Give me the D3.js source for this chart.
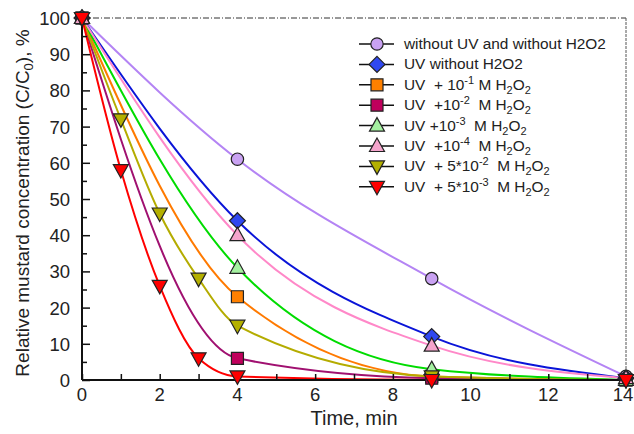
<!DOCTYPE html>
<html>
<head>
<meta charset="utf-8">
<script src="https://cdn.jsdelivr.net/npm/d3@7/dist/d3.min.js"></script>
<style>
  html, body { margin: 0; padding: 0; background: #fff; }
  svg { display: block; font-family: "Liberation Sans", Arial, sans-serif; }
  text { white-space: pre; }
</style>
</head>
<body>
<svg id="chart" width="634" height="434"></svg>
<script>
// Sampling times, min
const times4 = [0, 4, 9, 14];
const timesFine = [0, 1, 2, 3, 4, 9, 14];

// Relative concentration C/C0, %
const noUvNoH2O2 = [100, 61, 28, 1];
const uvNoH2O2 = [100, 44, 12, 0.5];
const uvH2O2_1e1 = [100, 23, 1, 0];
const uvH2O2_1e2 = [100, 6, 0.5, 0];
const uvH2O2_1e3 = [100, 31, 3, 0];
const uvH2O2_1e4 = [100, 40, 9.5, 0.5];
const uvH2O2_5e2 = [100, 72, 46, 28, 15, 1, 0];
const uvH2O2_5e3 = [100, 58, 26, 6, 1, 0, 0];

const xTicks = [0, 2, 4, 6, 8, 10, 12, 14];
const yTicks = [0, 10, 20, 30, 40, 50, 60, 70, 80, 90, 100];

const series = [
  { t: times4, v: noUvNoH2O2, line: "#b484f4", fill: "#c9a2f2", sym: "circle",
    label: [["without UV and without H2O2"]] },
  { t: times4, v: uvNoH2O2, line: "#0a14d8", fill: "#3048f0", sym: "diamond",
    label: [["UV without H2O2"]] },
  { t: times4, v: uvH2O2_1e1, line: "#ff7a00", fill: "#ff8000", sym: "square",
    label: [["UV  + 10"], ["-1", "sup"], [" M H"], ["2", "sub"], ["O"], ["2", "sub"]] },
  { t: times4, v: uvH2O2_1e2, line: "#a01070", fill: "#c0005c", sym: "square",
    label: [["UV  +10"], ["-2", "sup"], ["  M H"], ["2", "sub"], ["O"], ["2", "sub"]] },
  { t: times4, v: uvH2O2_1e3, line: "#00dc00", fill: "#a4f0a0", sym: "triangle",
    label: [["UV +10"], ["-3", "sup"], ["  M H"], ["2", "sub"], ["O"], ["2", "sub"]] },
  { t: times4, v: uvH2O2_1e4, line: "#ff88c8", fill: "#f4a4cc", sym: "triangle",
    label: [["UV  +10"], ["-4", "sup"], ["  M H"], ["2", "sub"], ["O"], ["2", "sub"]] },
  { t: timesFine, v: uvH2O2_5e2, line: "#b4ac00", fill: "#b4b000", sym: "tridown",
    label: [["UV  + 5*10"], ["-2", "sup"], ["  M H"], ["2", "sub"], ["O"], ["2", "sub"]] },
  { t: timesFine, v: uvH2O2_5e3, line: "#ff0000", fill: "#ff0000", sym: "tridown",
    label: [["UV  + 5*10"], ["-3", "sup"], ["  M H"], ["2", "sub"], ["O"], ["2", "sub"]] }
];

const svg = d3.select("#chart");
const x = d3.scaleLinear().domain([0, 14]).range([82, 626]);
const y = d3.scaleLinear().domain([0, 100]).range([380, 18]);

// symbol paths centred at origin
function symbolPath(sym) {
  switch (sym) {
    case "circle": return d3.symbol(d3.symbolCircle, 120)();
    case "diamond": return "M0,-8L8,0L0,8L-8,0Z";
    case "square": return "M-6,-6H6V6H-6Z";
    case "triangle": return "M0,-8L7.5,5.5H-7.5Z";
    case "tridown": return "M0,8L7.5,-5.5H-7.5Z";
  }
}

// frame: dash-dot top and dashed right border
svg.append("line").attr("x1", x(0)).attr("x2", x(14)).attr("y1", y(100)).attr("y2", y(100))
  .attr("stroke", "#333").attr("stroke-width", 1).attr("stroke-dasharray", "6,2,1,2");
svg.append("line").attr("x1", x(14)).attr("x2", x(14)).attr("y1", y(100)).attr("y2", y(0))
  .attr("stroke", "#555").attr("stroke-width", 1).attr("stroke-dasharray", "3,1");

// curves
const lineGen = d3.line().curve(d3.curveMonotoneX);
const curves = svg.append("g");
series.forEach(s => {
  curves.append("path")
    .attr("d", lineGen(s.t.map((t, i) => [x(t), y(s.v[i])])))
    .attr("fill", "none").attr("stroke", s.line).attr("stroke-width", 2);
});

// axes with inward ticks
const xAxisG = svg.append("g").attr("transform", `translate(0,${y(0)})`);
xAxisG.call(d3.axisTop(x).tickValues(d3.range(0, 15, 1)).tickSize(6).tickFormat(""));
xAxisG.selectAll("path.domain").remove();
xAxisG.selectAll("line").attr("stroke", "#111").attr("stroke-width", 1.5);
svg.append("g").selectAll("text").data(xTicks).join("text")
  .attr("x", d => d === 14 ? x(d) - 3 : x(d)).attr("y", 401)
  .attr("text-anchor", "middle").attr("font-size", 18.5).attr("fill", "#222")
  .text(d => d);

const yAxisG = svg.append("g").attr("transform", `translate(${x(0)},0)`);
yAxisG.call(d3.axisRight(y).tickValues(d3.range(0, 101, 5)).tickSize(5).tickFormat(""));
yAxisG.selectAll("path.domain").remove();
yAxisG.selectAll(".tick line")
  .attr("x2", d => d % 10 === 0 ? 8 : 5)
  .attr("stroke", "#111").attr("stroke-width", 1.5);
svg.append("g").selectAll("text").data(yTicks).join("text")
  .attr("x", 70).attr("y", d => y(d) + 7)
  .attr("text-anchor", "end").attr("font-size", 18.5).attr("fill", "#222")
  .text(d => d);

svg.append("line").attr("x1", x(0)).attr("x2", x(14)).attr("y1", y(0)).attr("y2", y(0))
  .attr("stroke", "#111").attr("stroke-width", 2);
svg.append("line").attr("x1", x(0)).attr("x2", x(0)).attr("y1", y(0)).attr("y2", y(100))
  .attr("stroke", "#111").attr("stroke-width", 2);

// markers
const marks = svg.append("g");
series.forEach(s => {
  marks.selectAll(null).data(s.t.map((t, i) => [t, s.v[i]])).join("path")
    .attr("transform", d => `translate(${x(d[0])},${y(d[1])})`)
    .attr("d", symbolPath(s.sym))
    .attr("fill", s.fill).attr("stroke", "#222").attr("stroke-width", 1.2);
});

// axis titles
svg.append("text").attr("x", 354).attr("y", 425)
  .attr("text-anchor", "middle").attr("font-size", 20).attr("fill", "#222")
  .text("Time, min");

const yt = svg.append("text")
  .attr("transform", `translate(29,${(y(0) + y(100)) / 2 + 4}) rotate(-90)`)
  .attr("text-anchor", "middle").attr("font-size", 19).attr("fill", "#222");
yt.append("tspan").text("Relative mustard concentration (C/C");
yt.append("tspan").attr("font-size", 13).attr("dy", 4).text("0");
yt.append("tspan").attr("dy", -4).text("), %");

// legend
const leg = svg.append("g");
series.forEach((s, i) => {
  const ly = 44 + i * 20.4;
  leg.append("line").attr("x1", 359).attr("x2", 394).attr("y1", ly).attr("y2", ly)
    .attr("stroke", "#111").attr("stroke-width", 1.5);
  leg.append("path").attr("transform", `translate(377,${ly})`)
    .attr("d", symbolPath(s.sym))
    .attr("fill", s.fill).attr("stroke", "#222").attr("stroke-width", 1.2);
  const tx = leg.append("text").attr("x", 404).attr("y", ly + 5)
    .attr("font-size", 15.4).attr("fill", "#222");
  let shift = 0;
  s.label.forEach(([str, kind]) => {
    const target = kind === "sup" ? -6 : kind === "sub" ? 4 : 0;
    const ts = tx.append("tspan").attr("dy", target - shift).text(str);
    if (kind) ts.attr("font-size", 11);
    shift = target;
  });
});
</script>
</body>
</html>
